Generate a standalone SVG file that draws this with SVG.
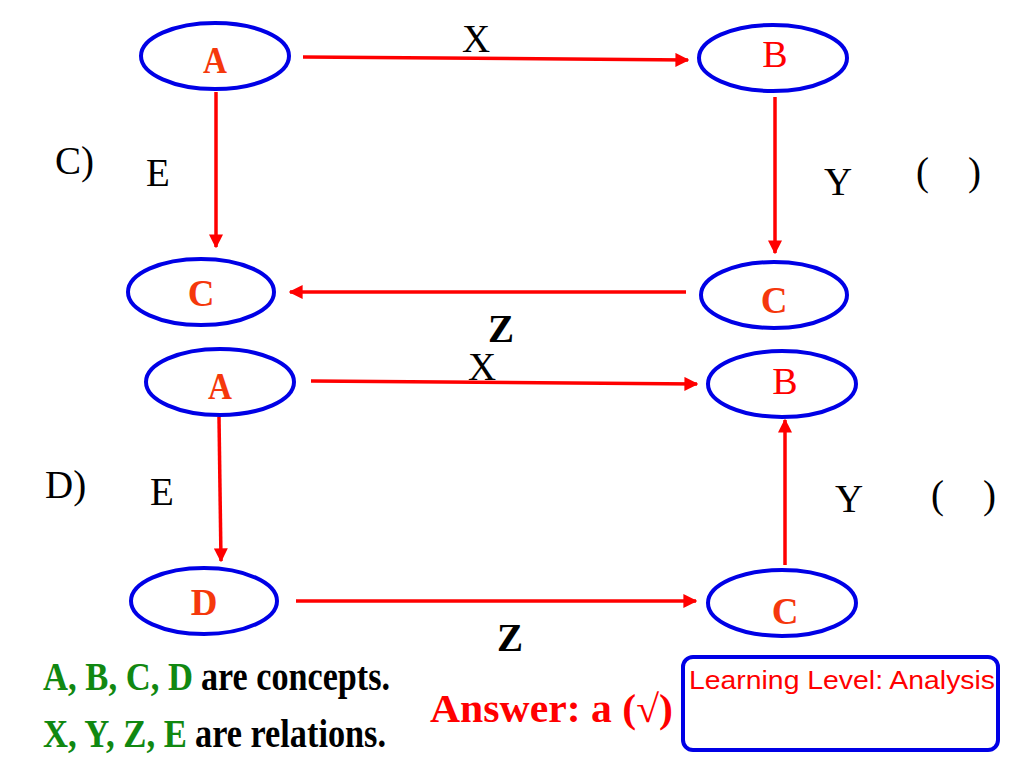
<svg xmlns="http://www.w3.org/2000/svg" width="1024" height="768" viewBox="0 0 1024 768">
<defs>
<marker id="ah" viewBox="0 0 10 10" refX="9" refY="5" markerWidth="4" markerHeight="4" orient="auto" markerUnits="strokeWidth">
<path d="M0,0 L10,5 L0,10 z" fill="#ff0000"/>
</marker>
<style>
.n ellipse{fill:#fff;stroke:#0000e6;stroke-width:4}
.n text{font-family:"Liberation Serif",serif;font-weight:bold;font-size:37px;fill:#f5380c;text-anchor:middle}
.n text.r{font-weight:normal;fill:#ff0000;font-size:38px}
.c line{stroke:#ff0000;stroke-width:3.5;marker-end:url(#ah)}
.t{font-family:"Liberation Serif",serif;font-size:39px;fill:#000}
.b{font-weight:bold}
.g{fill:#118811}
</style>
</defs>
<rect width="1024" height="768" fill="#fff"/>
<g class="c">
<line x1="303" y1="57" x2="688" y2="60"/>
<line x1="216" y1="92" x2="216" y2="247"/>
<line x1="775" y1="97" x2="775" y2="253"/>
<line x1="686" y1="292" x2="290" y2="292"/>
<line x1="311" y1="381" x2="697" y2="384"/>
<line x1="219" y1="417" x2="221" y2="561"/>
<line x1="785" y1="565" x2="785" y2="420"/>
<line x1="296" y1="601" x2="696" y2="601"/>
</g>
<g class="n" id="A1"><ellipse cx="215" cy="56" rx="74" ry="33"/><text x="215" y="73" textLength="24" lengthAdjust="spacingAndGlyphs">A</text></g>
<g class="n" id="B1"><ellipse cx="773" cy="58" rx="74" ry="33"/><text class="r" x="775" y="67">B</text></g>
<g class="n" id="C1"><ellipse cx="201" cy="292" rx="73" ry="33"/><text x="201" y="306">C</text></g>
<g class="n" id="C2"><ellipse cx="774" cy="295" rx="73" ry="33"/><text x="774" y="313">C</text></g>
<g class="n" id="A2"><ellipse cx="220" cy="382" rx="74" ry="33"/><text x="220" y="399" textLength="24" lengthAdjust="spacingAndGlyphs">A</text></g>
<g class="n" id="B2"><ellipse cx="782" cy="384" rx="74" ry="33"/><text class="r" x="785" y="394">B</text></g>
<g class="n" id="D"><ellipse cx="204" cy="601" rx="73" ry="33"/><text x="204" y="615">D</text></g>
<g class="n" id="C3"><ellipse cx="782" cy="603" rx="74" ry="33"/><text x="785" y="624">C</text></g>
<text class="t" x="462" y="52">X</text>
<text class="t" x="55" y="174">C)</text>
<text class="t" x="146" y="186">E</text>
<text class="t" x="824" y="195">Y</text>
<text class="t" x="916" y="185">(</text>
<text class="t" x="968" y="185">)</text>
<text class="t b" x="488" y="342">Z</text>
<text class="t" x="468" y="380">X</text>
<text class="t" x="45" y="498">D)</text>
<text class="t" x="150" y="505">E</text>
<text class="t" x="835" y="512">Y</text>
<text class="t" x="931" y="508">(</text>
<text class="t" x="983" y="508">)</text>
<text class="t b" x="497" y="651">Z</text>
<text class="t b g" x="43" y="690" font-size="37" textLength="150" lengthAdjust="spacingAndGlyphs">A, B, C, D</text>
<text class="t b" x="201" y="690" font-size="37" textLength="189" lengthAdjust="spacingAndGlyphs">are concepts.</text>
<text class="t b g" x="43" y="747" font-size="37" textLength="144" lengthAdjust="spacingAndGlyphs">X, Y, Z, E</text>
<text class="t b" x="195" y="747" font-size="37" textLength="191" lengthAdjust="spacingAndGlyphs">are relations.</text>
<text class="t b" x="430" y="722" font-size="42" textLength="243" lengthAdjust="spacingAndGlyphs" style="fill:#ff0000">Answer: a (√)</text>
<g id="box">
<rect x="683" y="657" width="315" height="93" rx="10" fill="#fff" stroke="#0000e6" stroke-width="4"/>
<text x="689" y="689" font-family="'Liberation Sans',sans-serif" font-size="26" fill="#ff0000" textLength="306" lengthAdjust="spacingAndGlyphs">Learning Level: Analysis</text>
</g>
</svg>
